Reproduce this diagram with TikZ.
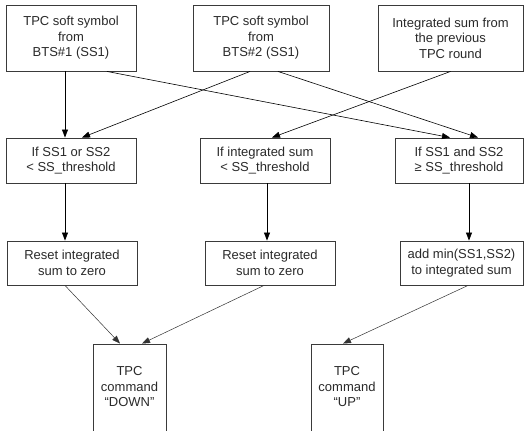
\documentclass[tikz,border=0pt]{standalone}
\usepackage{fontspec}
\setmainfont{Liberation Sans}
\usetikzlibrary{arrows.meta}
\definecolor{boxgray}{HTML}{3A3A3A}
\definecolor{txtgray}{HTML}{2A2A2A}
\begin{document}
\begin{tikzpicture}[x=1pt,y=-1pt,
  box/.style={draw=boxgray, line width=0.9pt, fill=white, align=center, inner sep=0pt,
    font=\fontsize{13}{15.5}\selectfont, text=txtgray},
  cmdtext/.style={align=center, inner sep=0pt, font=\fontsize{13}{15.5}\selectfont, text=txtgray},
  arr/.style={-{Triangle[length=8pt,width=6pt]}, line width=0.6pt, draw=black},
  thinarr/.style={-{Triangle[length=8pt,width=6pt]}, line width=0.5pt, draw=black!80}]
\useasboundingbox (0,0) rectangle (528,431);
\clip (0,0) rectangle (528,431);
% row 1
\node[box, minimum width=130pt, minimum height=66pt] (B1) at (71,38) {TPC soft symbol\\from\\BTS\#1 (SS1)};
\node[box, minimum width=136pt, minimum height=66pt] (B2) at (261,38) {TPC soft symbol\\from\\BTS\#2 (SS1)};
\node[box, minimum width=145pt, minimum height=66pt] (B3) at (450.5,38) {Integrated sum from\\the previous\\TPC round};
% row 2
\node[box, minimum width=130pt, minimum height=45pt] (C1) at (71,160.5) {If SS1 or SS2\\< SS\_threshold};
\node[box, minimum width=130pt, minimum height=45pt] (C2) at (265,160.5) {If integrated sum\\< SS\_threshold};
\node[box, minimum width=128pt, minimum height=45pt] (C3) at (459,160.5) {If SS1 and SS2\\≥ SS\_threshold};
% row 3
\node[box, minimum width=130pt, minimum height=44pt] (D1) at (72,263) {Reset integrated\\sum to zero};
\node[box, minimum width=130pt, minimum height=44pt] (D2) at (270,263) {Reset integrated\\sum to zero};
\node[box, minimum width=123pt, minimum height=44pt] (D3) at (461.5,263) {add min(SS1,SS2)\\to integrated sum};
% row 4
\node[box, minimum width=73pt, minimum height=120pt] (E1) at (129.5,404) {};
\node[box, minimum width=72pt, minimum height=120pt] (E2) at (347,404) {};
\node[cmdtext] (E1t) at (129.5,387) {TPC\\command\\“DOWN”};
\node[cmdtext] (E2t) at (347,387) {TPC\\command\\“UP”};
% connectors row1 -> row2
\draw[arr] ([xshift=-6pt]B1.south) -- ([xshift=-6pt]C1.north);
\draw[arr] ([xshift=36pt]B1.south) -- ([xshift=-9pt]C3.north);
\draw[arr] ([xshift=-11pt]B2.south) -- ([xshift=11pt]C1.north);
\draw[arr] ([xshift=17pt]B2.south) -- ([xshift=19pt]C3.north);
\draw[arr] (B3.south) -- ([xshift=7pt]C2.north);
% row2 -> row3
\draw[arr] ([xshift=-6pt]C1.south) -- ([xshift=-7pt]D1.north);
\draw[arr] ([xshift=2pt]C2.south) -- ([xshift=-3pt]D2.north);
\draw[arr] ([xshift=10pt]C3.south) -- ([xshift=7.5pt]D3.north);
% row3 -> row4
\draw[thinarr] ([xshift=-7pt]D1.south) -- ([xshift=-9.5pt]E1.north);
\draw[thinarr] ([xshift=-6pt]D2.south) -- ([xshift=12.5pt]E1.north);
\draw[thinarr] ([xshift=6.5pt]D3.south) -- ([xshift=-4pt]E2.north);
\end{tikzpicture}
\end{document}
